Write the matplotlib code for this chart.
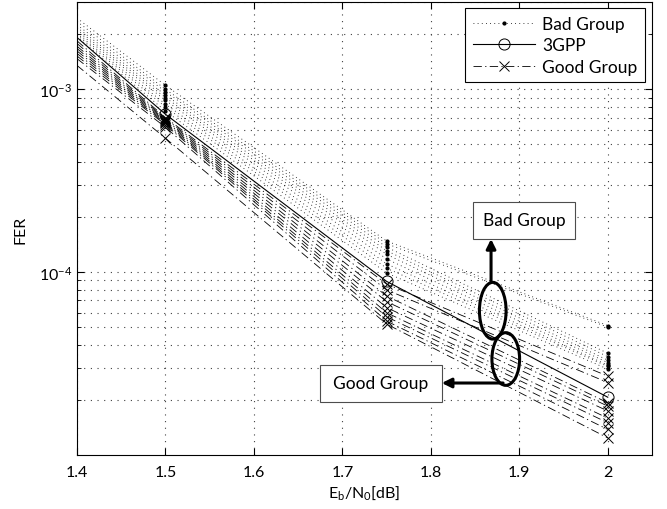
#!/usr/bin/env python3
# -*- coding: utf-8 -*-
"""
FER versus Eb/N0 for the 3GPP interleaver and the bad / good interleaver groups.
"""

import matplotlib
matplotlib.use('Agg')
import matplotlib.pyplot as plt
from matplotlib.patches import Ellipse, Rectangle
from matplotlib.ticker import LogLocator, NullFormatter, FixedLocator, FuncFormatter

# Eb/N0 points [dB] (first point is the left edge of the plot, no marker there)
ebno = [1.4, 1.5, 1.75, 2.0]

# 3GPP reference interleaver
fer_3gpp = [1.92e-3, 7.3e-4, 8.9e-5, 2.07e-5]

# bad group, one list per interleaver
fer_bad = [
    [2.45e-3, 1.05e-3, 1.48e-4, 5.1e-5],
    [2.35e-3, 1.00e-3, 1.43e-4, 5.0e-5],
    [2.25e-3, 0.97e-3, 1.37e-4, 3.6e-5],
    [2.18e-3, 0.93e-3, 1.31e-4, 3.45e-5],
    [2.12e-3, 0.90e-3, 1.25e-4, 3.3e-5],
    [2.07e-3, 0.87e-3, 1.18e-4, 3.2e-5],
    [2.02e-3, 0.83e-3, 1.11e-4, 3.1e-5],
    [1.98e-3, 0.80e-3, 1.05e-4, 3.05e-5],
    [1.94e-3, 0.76e-3, 0.99e-4, 2.95e-5],
]

# good group, one list per interleaver
fer_good = [
    [1.84e-3, 7.0e-4, 8.6e-5, 2.70e-5],
    [1.78e-3, 6.9e-4, 8.0e-5, 2.49e-5],
    [1.72e-3, 6.8e-4, 7.4e-5, 1.93e-5],
    [1.67e-3, 6.7e-4, 6.9e-5, 1.85e-5],
    [1.62e-3, 6.6e-4, 6.4e-5, 1.74e-5],
    [1.57e-3, 6.5e-4, 6.0e-5, 1.59e-5],
    [1.52e-3, 6.4e-4, 5.7e-5, 1.50e-5],
    [1.47e-3, 6.2e-4, 5.4e-5, 1.38e-5],
    [1.35e-3, 5.4e-4, 5.2e-5, 1.24e-5],
]

x_ticks = [1.4, 1.5, 1.6, 1.7, 1.8, 1.9, 2.0]

plt.rcParams['font.family'] = ['Lato', 'DejaVu Sans']
plt.rcParams['mathtext.default'] = 'regular'
plt.rcParams['font.size'] = 11

fig = plt.figure(figsize=(6.67, 5.10), dpi=100)
ax = fig.add_axes([0.1154, 0.1059, 0.8621, 0.8882])

lw = 0.6
dot_style = (0, (1, 4))
dashdot_style = (0, (10, 4, 1.5, 4))

for i, fer in enumerate(fer_bad):
    ax.plot(ebno, fer, color='black', ls=dot_style, lw=lw, marker='.', ms=4,
            markevery=[1, 2, 3], label='Bad Group' if i == 0 else None)

ax.plot(ebno, fer_3gpp, color='black', ls='-', lw=0.8, marker='o', ms=8,
        mfc='none', mew=0.7, markevery=[1, 2, 3], label='3GPP')

for i, fer in enumerate(fer_good):
    ax.plot(ebno, fer, color='black', ls=dashdot_style, lw=lw, marker='x', ms=7,
            mew=0.7, markevery=[1, 2, 3], label='Good Group' if i == 0 else None)

ax.set_yscale('log')
ax.set_xlim(1.4, 2.05)
ax.set_ylim(1e-5, 3e-3)

ax.xaxis.set_major_locator(FixedLocator(x_ticks))
ax.xaxis.set_major_formatter(FuncFormatter(lambda v, p: '%g' % v))
ax.yaxis.set_major_locator(FixedLocator([1e-4, 1e-3]))
ax.yaxis.set_minor_locator(LogLocator(base=10, subs=range(2, 10)))
ax.yaxis.set_minor_formatter(NullFormatter())

ax.tick_params(which='both', direction='in', top=True, right=True, labelsize=11.5)
ax.tick_params(axis='x', pad=7)
ax.tick_params(which='major', length=5)
ax.tick_params(which='minor', length=3)
grid_style = (0, (1, 5))
ax.grid(True, which='major', ls=grid_style, lw=0.8, color='0.25')
ax.grid(True, which='minor', axis='y', ls=grid_style, lw=0.8, color='0.25')

ax.set_xlabel(r'E$_b$/N$_0$[dB]', fontsize=11.5, labelpad=3)
ax.set_ylabel('FER', fontsize=11.5, labelpad=8)

leg = ax.legend(loc='upper right', bbox_to_anchor=(0.988, 0.986), borderaxespad=0,
                fancybox=False, framealpha=1, edgecolor='black', handlelength=3.6,
                handletextpad=0.4, fontsize=12.5, labelspacing=0.3, borderpad=0.45)
leg.get_frame().set_linewidth(0.8)

# annotation: boxes, ellipses and arrows (axes fraction)
ax.add_patch(Rectangle((0.6889, 0.4768), 0.1780, 0.0817, transform=ax.transAxes,
                       fc='white', ec='0.3', lw=0.8, zorder=5))
ax.text(0.7779, 0.5177, 'Bad Group', transform=ax.transAxes, ha='center',
        va='center', fontsize=12.5, zorder=6)
ax.add_patch(Rectangle((0.4229, 0.1177), 0.2115, 0.0816, transform=ax.transAxes,
                       fc='white', ec='0.3', lw=0.8, zorder=5))
ax.text(0.5287, 0.1585, 'Good Group', transform=ax.transAxes, ha='center',
        va='center', fontsize=12.5, zorder=6)

ax.add_patch(Ellipse((0.7231, 0.3185), 0.0464, 0.1252, transform=ax.transAxes,
                     fill=False, ec='black', lw=2.2, zorder=6))
ax.add_patch(Ellipse((0.7457, 0.2119), 0.0481, 0.1163, transform=ax.transAxes,
                     fill=False, ec='black', lw=2.2, zorder=6))

arrow = dict(arrowstyle='-|>', lw=2.2, color='black', mutation_scale=14,
             shrinkA=0, shrinkB=0)
ax.annotate('', xy=(0.7201, 0.4768), xytext=(0.7201, 0.3812),
            xycoords='axes fraction', arrowprops=arrow, zorder=7)
ax.annotate('', xy=(0.6344, 0.1589), xytext=(0.7410, 0.1589),
            xycoords='axes fraction', arrowprops=arrow, zorder=7)

plt.savefig('out.png', dpi=100)
